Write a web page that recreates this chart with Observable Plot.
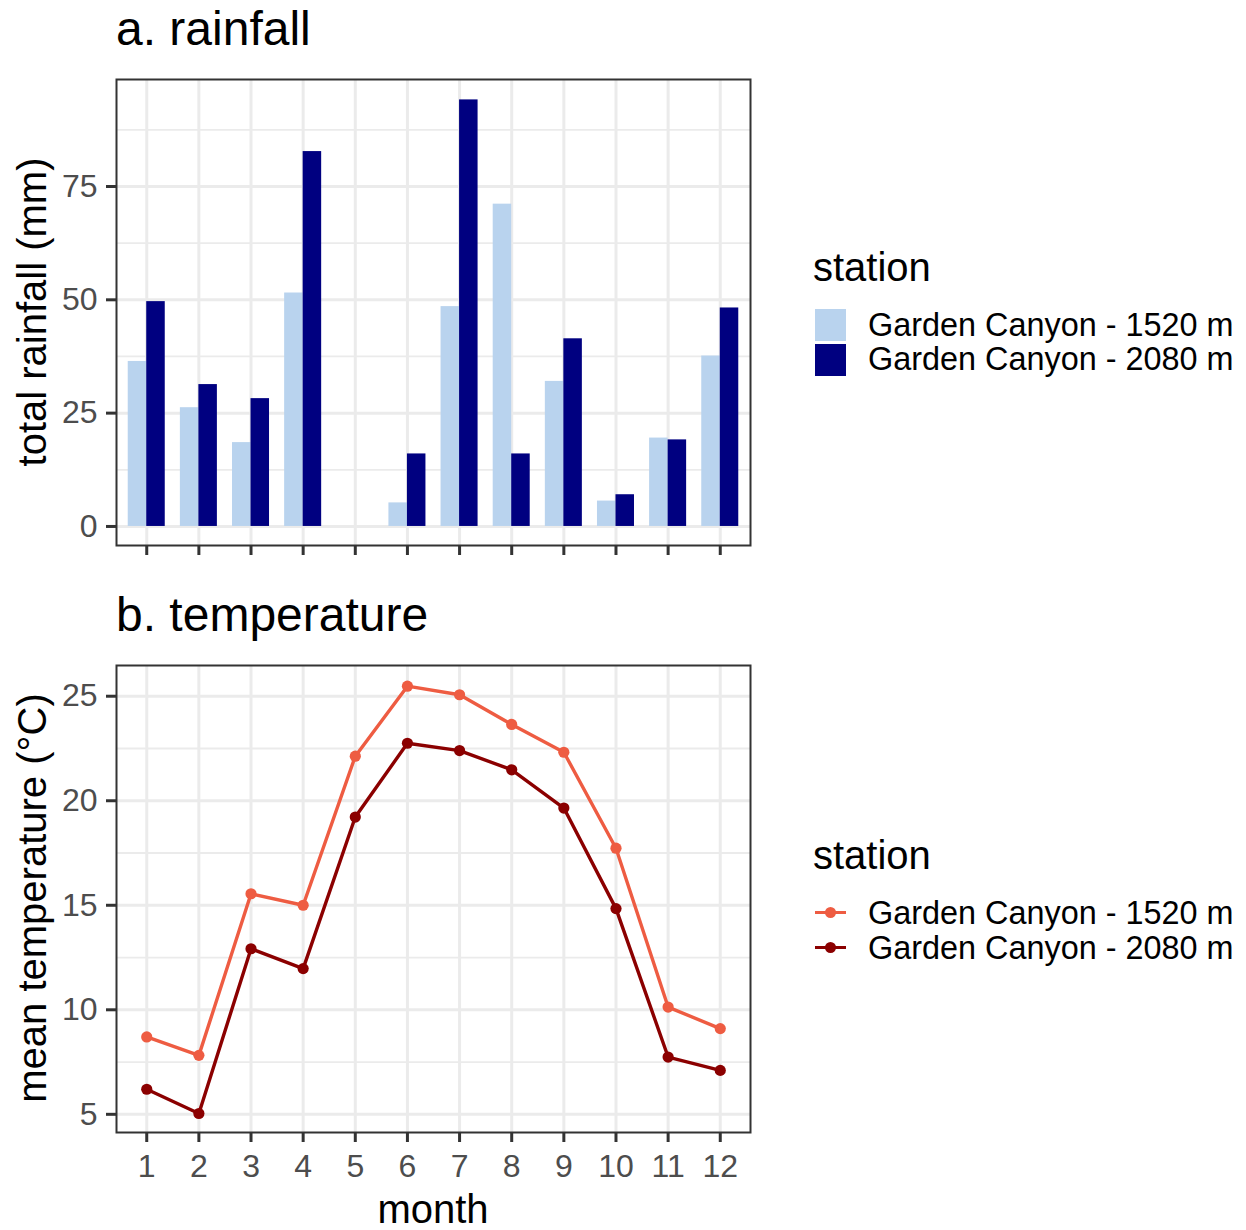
<!DOCTYPE html>
<html><head><meta charset="utf-8">
<script src="https://cdn.jsdelivr.net/npm/d3@7"></script>
<script src="https://cdn.jsdelivr.net/npm/@observablehq/plot@0.6"></script>
<style>
body{margin:0;background:#fff;}
#root{position:relative;width:1246px;height:1230px;font-family:"Liberation Sans",Arial,Helvetica,sans-serif;overflow:hidden;background:#fff;}
.t{position:absolute;line-height:0;white-space:nowrap;color:#000;}
.panel{position:absolute;left:0;}
.sw{position:absolute;}
</style></head><body><div id="root"></div>
<script>
// ---- data ----
const months = [1,2,3,4,5,6,7,8,9,10,11,12];
const stations = ["Garden Canyon - 1520 m", "Garden Canyon - 2080 m"];
const rain1520 = [36.4, 26.2, 18.5, 51.5, null, 5.2, 48.5, 71.1, 32.0, 5.6, 19.5, 37.6];
const rain2080 = [49.6, 31.3, 28.2, 82.7, null, 16.0, 94.1, 16.0, 41.4, 7.0, 19.1, 48.2];
const temp1520 = [8.7, 7.82, 15.55, 15.0, 22.13, 25.48, 25.07, 23.65, 22.32, 17.73, 10.13, 9.1];
const temp2080 = [6.2, 5.04, 12.92, 11.97, 19.22, 22.75, 22.4, 21.48, 19.65, 14.84, 7.74, 7.1];
const rainTicks = [0, 25, 50, 75];
const rainMinor = [12.5, 37.5, 62.5, 87.5];
const tempTicks = [5, 10, 15, 20, 25];
const tempMinor = [7.5, 12.5, 17.5, 22.5];
const rainColors = ["#B9D3EE", "#000080"];
const tempColors = ["#EE5C42", "#8B0000"];

const rainRows = [];
const tempRows = [];
months.forEach((m, i) => {
  rainRows.push({month: m, station: stations[0], value: rain1520[i]});
  rainRows.push({month: m, station: stations[1], value: rain2080[i]});
  tempRows.push({month: m, station: stations[0], value: temp1520[i]});
  tempRows.push({month: m, station: stations[1], value: temp2080[i]});
});

const FONT = '"Liberation Sans", Arial, Helvetica, sans-serif';
const GRID = "#EBEBEB";
const DARK = "#333333";
const TICKTXT = "#4D4D4D";
const HALF = 0.355; // half of dodge width

const common = {
  width: 760, marginLeft: 116, marginRight: 10,
  x: {type: "linear", domain: [0.42, 12.58]},
  style: {fontFamily: FONT, fontSize: "32px", background: "transparent", overflow: "visible"}
};

const chartA = Plot.plot({
  ...common,
  height: 600, marginTop: 79, marginBottom: 55,
  y: {domain: [-4.2, 98.6]},
  color: {domain: stations, range: rainColors},
  marks: [
    Plot.ruleY(rainMinor, {stroke: GRID, strokeWidth: 1.8}),
    Plot.ruleY(rainTicks, {stroke: GRID, strokeWidth: 3}),
    Plot.ruleX(months, {stroke: GRID, strokeWidth: 3}),
    Plot.rectY(rainRows, {
      x1: d => d.station === stations[0] ? d.month - HALF : d.month,
      x2: d => d.station === stations[0] ? d.month : d.month + HALF,
      y1: 0, y2: "value", fill: "station", inset: 0
    }),
    Plot.frame({stroke: DARK, strokeWidth: 2}),
    Plot.axisY(rainTicks, {tickSize: 10, tickPadding: 9, stroke: DARK, strokeWidth: 3, fill: TICKTXT, label: null}),
    Plot.axisX(months, {tickSize: 10, tickFormat: () => "", stroke: DARK, strokeWidth: 3, label: null})
  ]
});

const chartB = Plot.plot({
  ...common,
  height: 630, marginTop: 65, marginBottom: 98,
  y: {domain: [4.13, 26.47]},
  color: {domain: stations, range: tempColors},
  marks: [
    Plot.ruleY(tempMinor, {stroke: GRID, strokeWidth: 1.8}),
    Plot.ruleY(tempTicks, {stroke: GRID, strokeWidth: 3}),
    Plot.ruleX(months, {stroke: GRID, strokeWidth: 3}),
    Plot.line(tempRows, {x: "month", y: "value", stroke: "station", strokeWidth: 3.4}),
    Plot.dot(tempRows, {x: "month", y: "value", fill: "station", r: 5.6}),
    Plot.frame({stroke: DARK, strokeWidth: 2}),
    Plot.axisY(tempTicks, {tickSize: 10, tickPadding: 9, stroke: DARK, strokeWidth: 3, fill: TICKTXT, label: null}),
    Plot.axisX(months, {tickSize: 10, tickPadding: 12, stroke: DARK, strokeWidth: 3, fill: TICKTXT, label: null})
  ]
});

const root = document.getElementById("root");
const pa = document.createElement("div"); pa.className = "panel"; pa.style.top = "0px"; pa.appendChild(chartA); root.appendChild(pa);
const pb = document.createElement("div"); pb.className = "panel"; pb.style.top = "600px"; pb.appendChild(chartB); root.appendChild(pb);

// text helper: positions by baseline (line-height:0 => baseline = top + 0.3465em)
function addText(str, x, baseline, size, opts = {}) {
  const d = document.createElement("div");
  d.className = "t";
  d.textContent = str;
  d.style.fontSize = size + "px";
  d.style.top = (baseline - 0.3465 * size) + "px";
  d.style.left = x + "px";
  if (opts.center) d.style.transform = "translateX(-50%)";
  if (opts.rotate) {
    d.style.left = (x - 0.3465 * size) + "px";
    d.style.top = baseline + "px"; // here baseline = vertical center
    d.style.transform = "translateX(-50%) rotate(-90deg)";
  }
  if (opts.color) d.style.color = opts.color;
  root.appendChild(d);
  return d;
}

// titles
addText("a. rainfall", 116, 46, 48);
addText("b. temperature", 116, 632, 48);
// axis titles
addText("total rainfall (mm)", 46, 312, 40, {rotate: true});
addText("mean temperature (°C)", 46, 898, 40, {rotate: true});
addText("month", 433, 1223, 40, {center: true});

// legend a
addText("station", 813, 281, 40);
const keyTopsA = [309, 344];
stations.forEach((s, i) => {
  const k = document.createElement("div");
  k.className = "sw";
  Object.assign(k.style, {left: "815px", top: keyTopsA[i] + "px", width: "31px", height: "32px", background: rainColors[i]});
  root.appendChild(k);
  addText(s, 868, [336, 370.5][i], 32.4);
});

// legend b
addText("station", 813, 869, 40);
const keyMidB = [912, 947];
stations.forEach((s, i) => {
  const ln = document.createElement("div");
  ln.className = "sw";
  Object.assign(ln.style, {left: "815px", top: (keyMidB[i] - 1.5) + "px", width: "31px", height: "3px", background: tempColors[i]});
  root.appendChild(ln);
  const pt = document.createElement("div");
  pt.className = "sw";
  Object.assign(pt.style, {left: "825px", top: (keyMidB[i] - 5.5) + "px", width: "11px", height: "11px", borderRadius: "50%", background: tempColors[i]});
  root.appendChild(pt);
  addText(s, 868, [924, 959][i], 32.4);
});
</script>
</body></html>
